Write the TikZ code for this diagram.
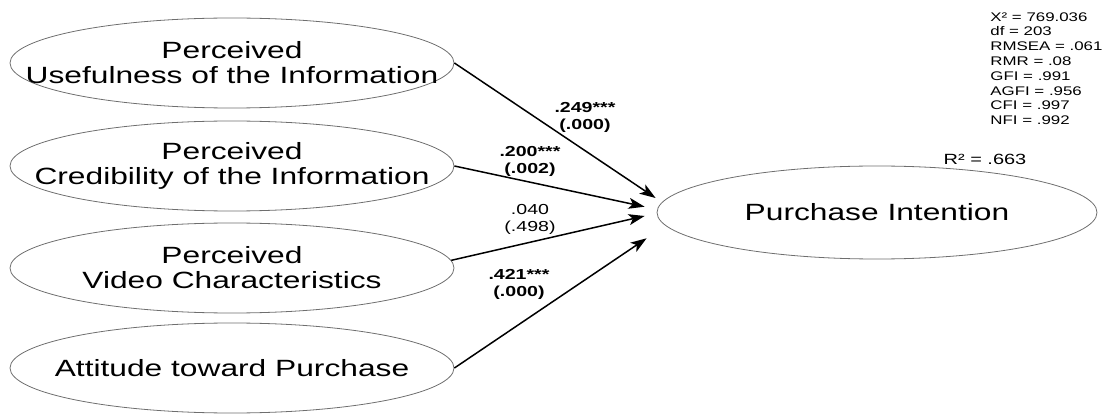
\documentclass[tikz,border=0pt]{standalone}
\usepackage{fontspec}
\setmainfont{Liberation Sans}[FakeStretch=1.35]
\usetikzlibrary{shapes.geometric, arrows.meta}
\definecolor{rim}{RGB}{110, 110, 110}
\newcommand{\oneline}[1]{\makebox[0pt]{#1}}

\begin{document}
\begin{tikzpicture}[x=1pt, y=-1pt, thick,
    latent/.style={draw=rim, line width=0.8pt, ellipse, inner sep=0pt,
      minimum width=444pt, minimum height=90pt, align=center,
      font=\fontsize{23.5}{25}\selectfont},
    path/.style={-{Stealth[length=16pt, width=11pt, inset=4pt]}, line width=1.5pt},
    coef/.style={align=center, inner sep=0pt, font=\fontsize{14.5}{17}\selectfont}]

  \useasboundingbox (0, 0) rectangle (1106, 414);

  \node[latent] (useful) at (232, 63) {\oneline{Perceived}\\ \oneline{Usefulness of the Information}};
  \node[latent] (cred) at (232, 166) {\oneline{Perceived}\\ \oneline{Credibility of the Information}};
  \node[latent] (video) at (232, 268) {\oneline{Perceived}\\ \oneline{Video Characteristics}};
  \node[latent] (attit) at (232, 368) {\oneline{Attitude toward Purchase}};

  \node[latent, minimum width=440pt, minimum height=93pt] (intent) at (877, 212.5) {\oneline{Purchase Intention}};

  \draw[path] (useful.east) -- ([xshift=-1pt, yshift=14.5pt]intent.west);
  \draw[path] (cred.east) -- ([xshift=-12pt, yshift=5.8pt]intent.west);
  \draw[path] (video.2) -- ([xshift=-12pt, yshift=-3.5pt]intent.west);
  \draw[path] (attit.east) -- ([xshift=-10pt, yshift=-25.8pt]intent.west);

  \node[coef, font=\fontsize{14.5}{17}\selectfont\bfseries] (c1) at (585, 117.5) {.249***\\(.000)};
  \node[coef, font=\fontsize{14.5}{17}\selectfont\bfseries] (c2) at (530, 161) {.200***\\(.002)};
  \node[coef] (c3) at (530, 219) {.040\\(.498)};
  \node[coef, font=\fontsize{14.5}{17}\selectfont\bfseries] (c4) at (519, 284) {.421***\\(.000)};

  \node[font=\fontsize{14.8}{17}\selectfont, inner sep=0pt] (rsq) at (985, 159) {R² = .663};

  \node[anchor=north west, align=left, inner sep=0pt, font=\fontsize{12.5}{14.8}\selectfont] (fit) at (990, 12)
    {X² = 769.036\\ df = 203\\ RMSEA = .061\\ RMR = .08\\ GFI = .991\\ AGFI = .956\\ CFI = .997\\ NFI = .992};

\end{tikzpicture}
\end{document}
